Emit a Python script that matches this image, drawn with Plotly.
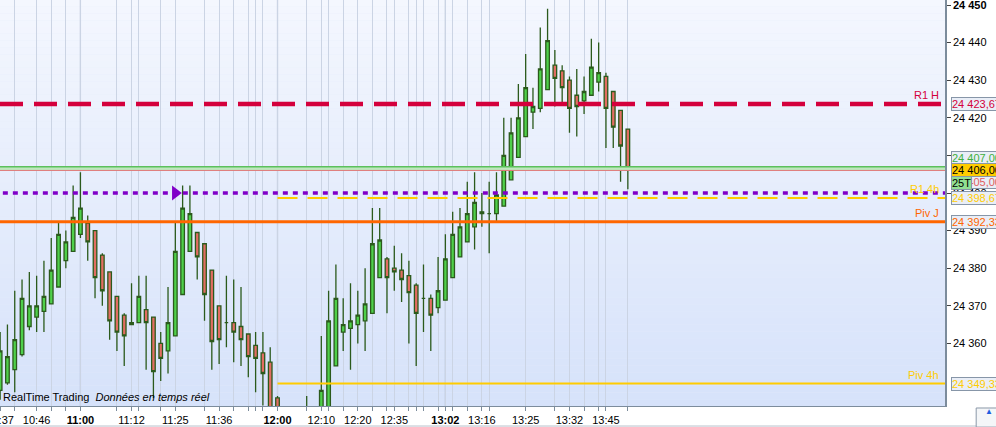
import plotly.graph_objects as go

# ---------------- data ----------------
opens = [24347.5, 24349.5, 24353, 24357, 24364.5, 24367, 24368.5, 24370.5, 24375, 24382,
         24384.5, 24389, 24392, 24390, 24383.5, 24379, 24372.5, 24367.5, 24365, 24365.5,
         24369, 24367, 24360, 24358, 24362, 24373, 24384.5, 24389.5, 24386.5, 24379.5,
         24370, 24365.5, 24365.5, 24364.5, 24362.5, 24359.5, 24357.5, 24355, 24345.5, 24338,
         24331, 24333, 24336, 24339, 24340, 24342, 24354, 24363, 24364, 24365,
         24366, 24368, 24377.5, 24382.5, 24380, 24379.5, 24378, 24375.5, 24372, 24372,
         24369.5, 24371.5, 24377.5, 24383, 24387, 24391, 24394.5, 24394.5, 24394.5, 24396.5,
         24403.5, 24409.5, 24415, 24421.5, 24422.5, 24427.5, 24434, 24432.5, 24430, 24426,
         24424.5, 24426, 24429.5, 24431, 24427, 24422, 24417]
highs = [24363, 24365, 24374, 24377, 24379, 24378, 24382, 24388, 24392.5, 24390,
         24402, 24405.5, 24394, 24390, 24384, 24379, 24372.5, 24368, 24376, 24378,
         24378, 24367, 24363, 24375, 24392.5, 24402, 24402, 24389.5, 24386.5, 24379.5,
         24370, 24378, 24377, 24375, 24362.5, 24363, 24363, 24359, 24346, 24341,
         24336, 24340, 24346, 24342, 24362, 24374, 24381, 24372, 24376, 24374,
         24380, 24396, 24396, 24383, 24386, 24384, 24382, 24376, 24381, 24373,
         24383, 24389, 24395, 24396, 24403, 24405.5, 24400, 24403, 24405.5, 24420,
         24420, 24429, 24437, 24428, 24444, 24449, 24438, 24434, 24431, 24433,
         24431, 24441, 24440, 24432, 24427, 24422, 24417]
lows = [24345, 24349, 24347, 24356.5, 24363.5, 24363, 24363, 24370.5, 24375, 24380,
        24384.5, 24388, 24382, 24372, 24370, 24361, 24358, 24354, 24365, 24365.5,
        24353, 24345.5, 24350, 24352, 24362, 24373, 24384.5, 24377, 24366, 24353,
        24354.5, 24359, 24355, 24354, 24351, 24347, 24343.5, 24336, 24333, 24328,
        24325, 24329, 24331, 24333, 24336, 24340, 24354, 24358, 24353, 24360,
        24358, 24368, 24377.5, 24368, 24374, 24371, 24360, 24354, 24363, 24358,
        24368, 24371.5, 24377.5, 24383, 24387, 24385, 24391, 24384, 24392.5, 24396.5,
        24403.5, 24409.5, 24415, 24417, 24421.5, 24427.5, 24423, 24424, 24416, 24415,
        24421, 24426, 24427, 24412, 24412, 24403, 24401]
closes = [24358, 24356.5, 24361, 24372, 24370, 24370, 24372.5, 24379.5, 24389, 24387,
          24393.5, 24396, 24387, 24377.5, 24374, 24366, 24363, 24362, 24365.5, 24372.5,
          24365.5, 24352.5, 24356, 24365.5, 24384.5, 24396, 24394.5, 24383, 24373, 24360.5,
          24361, 24365.5, 24363, 24361, 24356.5, 24356, 24352, 24341, 24338, 24331,
          24333, 24336, 24339, 24340, 24347.5, 24366, 24372, 24365, 24366, 24367.5,
          24370.5, 24386.5, 24387.5, 24377.5, 24379, 24377, 24373.5, 24368, 24372, 24367.5,
          24374, 24382.5, 24389, 24391, 24394.5, 24397.5, 24395, 24394.5, 24399.5, 24410,
          24416, 24420, 24428, 24423, 24433, 24440.5, 24430.5, 24428, 24422.5, 24423,
          24427, 24433.5, 24432, 24422.5, 24417.5, 24412.5, 24406]
bar_index = list(range(len(opens)))

# time-axis labels (tick bars, irregular time spacing)
tick_pos = [0, 5, 11, 18, 24, 30, 38, 44, 49, 54, 61, 66, 72, 78, 83]
tick_labels = ["10:37", "10:46", "<b>11:00</b>", "11:12", "11:25", "11:36", "<b>12:00</b>",
               "12:10", "12:20", "12:35", "<b>13:02</b>", "13:16", "13:25", "13:32", "13:45"]
grid_pos = [2, 7, 9, 16, 19, 22, 28, 32, 34, 35, 36, 42, 45, 47, 51, 53, 56, 57, 58, 60,
            62, 64, 67, 76, 80, 82, 86]
major_pos = [11, 38, 61]

price_ticks = [24360, 24370, 24380, 24390, 24400, 24410, 24420, 24430, 24440, 24450]
price_labels = ["24 360", "24 370", "24 380", "24 390", "24 400", "24 410", "24 420",
                "24 430", "24 440", "<b>24 450</b>"]

# levels
r1_h = 24423.67
band_top = 24407.00
last_price = 24406.00
purple_level = 24400.00
r1_4h = 24398.67
piv_j = 24392.33
piv_4h = 24349.33
levels_start = 38          # 4h levels start at the 12:00 bar
marker_bar = 24            # purple triangle

# ---------------- figure ----------------
X0, X1 = -0.02, 129.45
Y0, Y1 = 24343.35, 24451.33

fig = go.Figure()

fig.add_trace(go.Candlestick(
    x=bar_index, open=opens, high=highs, low=lows, close=closes,
    increasing=dict(fillcolor="#4fd04a", line=dict(color="#2b5a1c", width=1.3)),
    decreasing=dict(fillcolor="#e26d62", line=dict(color="#2b5a1c", width=1.3)),
    whiskerwidth=0, hoverinfo="skip", showlegend=False,
))

fig.add_trace(go.Scatter(
    x=[marker_bar], y=[purple_level], mode="markers",
    marker=dict(symbol="triangle-right", size=13, color="#8000c8", line=dict(width=0)),
    hoverinfo="skip", showlegend=False,
))

shapes = []
# gradient background
N = 60
top_c = (244, 247, 254)
bot_c = (214, 226, 250)
for k in range(N):
    t = (k + 0.5) / N
    c = tuple(round(bot_c[j] + (top_c[j] - bot_c[j]) * t) for j in range(3))
    shapes.append(dict(type="rect", xref="paper", yref="paper", x0=0, x1=1,
                       y0=k / N, y1=(k + 1) / N, fillcolor="rgb(%d,%d,%d)" % c,
                       line=dict(width=0), layer="below"))
# major vertical lines
for p in major_pos:
    shapes.append(dict(type="line", xref="x", yref="paper", x0=p, x1=p, y0=0, y1=1,
                       line=dict(color="#aab5cb", width=1.2), layer="between"))
# level lines
shapes += [
    dict(type="rect", xref="paper", yref="y", x0=0, x1=1, y0=last_price, y1=band_top,
         fillcolor="#bde8bd", line=dict(width=0)),
    dict(type="line", xref="paper", yref="y", x0=0, x1=1, y0=band_top, y1=band_top,
         line=dict(color="#5cc05c", width=1.5)),
    dict(type="line", xref="paper", yref="y", x0=0, x1=1, y0=last_price, y1=last_price,
         line=dict(color="#e07a7a", width=1)),
    dict(type="line", xref="paper", yref="y", x0=0, x1=1, y0=r1_h, y1=r1_h,
         line=dict(color="#d4003c", width=4.5, dash="23px,11px")),
    dict(type="line", xref="paper", yref="y", x0=0.003, x1=1, y0=purple_level, y1=purple_level,
         line=dict(color="#8000c8", width=3.5, dash="5px,5px")),
    dict(type="line", xref="x", yref="y", x0=levels_start, x1=X1, y0=r1_4h, y1=r1_4h,
         line=dict(color="#ffcc00", width=2.2, dash="20px,10px")),
    dict(type="line", xref="paper", yref="y", x0=0, x1=1, y0=piv_j, y1=piv_j,
         line=dict(color="#ff6600", width=3)),
    dict(type="line", xref="x", yref="y", x0=levels_start, x1=X1, y0=piv_4h, y1=piv_4h,
         line=dict(color="#ffcc00", width=2.2)),
    # bottom frame line + small icon
    dict(type="line", xref="paper", yref="paper", x0=0, x1=1.06, y0=-0.0493, y1=-0.0493,
         line=dict(color="#b8c0cc", width=1)),
    dict(type="rect", xref="paper", yref="paper", x0=1.033, x1=1.06, y0=-0.0049, y1=-0.052,
         fillcolor="#f4f6f8", line=dict(color="#8a98a8", width=1)),
]

FONT = "Liberation Sans, Arial, sans-serif"
ann = []
# level names inside the plot
for txt, lvl, col in [("R1 H", r1_h, "#d4003c"), ("R1 4h", r1_4h, "#ffcc00"),
                      ("Piv J", piv_j, "#ff6600"), ("Piv 4h", piv_4h, "#ffcc00")]:
    ann.append(dict(text=txt, xref="paper", yref="y", x=0.9955, y=lvl, xanchor="right",
                    yanchor="bottom", yshift=1, showarrow=False,
                    font=dict(family=FONT, size=11, color=col)))

box_bg = "#e9eef7"
box_bd = "#8796a8"
BX = 951 / 945
def price_box(txt, lvl, col, bg=box_bg, shift=0):
    return dict(text=txt, xref="paper", yref="y", x=BX, y=lvl, xanchor="left",
                yanchor="middle", yshift=shift, showarrow=False, align="left",
                bgcolor=bg, bordercolor=box_bd, borderwidth=1, borderpad=0,
                font=dict(family=FONT, size=11, color=col))

ann += [
    price_box("24 423,67", r1_h, "#d4003c"),
    price_box("24 407,00", band_top, "#40b040", shift=9),
    price_box("24 405,00", last_price, "#e06060", shift=-12),
    price_box("24 406,00", last_price, "#000000", bg="#ffcc00"),
    price_box("25T", last_price, "#000000", bg="#92e092", shift=-13),
    price_box("24 398,67", r1_4h, "#ffcc00"),
    price_box("24 392,33", piv_j, "#ff6600"),
    price_box("24 349,33", piv_4h, "#ffcc00"),
    dict(text="RealTime Trading  <i>Données en temps réel</i>", xref="paper", yref="paper",
         x=0.001, y=0.022, xanchor="left", yanchor="middle", showarrow=False,
         font=dict(family=FONT, size=11, color="#000000")),
    dict(text="▲", xref="paper", yref="paper", x=1.0465, y=-0.014, xanchor="center",
         yanchor="middle", showarrow=False, font=dict(family=FONT, size=8, color="#1f5fe0")),
]

fig.update_layout(
    width=996, height=427,
    margin=dict(l=0, r=51, t=0, b=21, autoexpand=False),
    paper_bgcolor="#ffffff",
    plot_bgcolor="rgb(228,235,251)",
    showlegend=False,
    hovermode=False,
    shapes=shapes,
    annotations=ann,
    xaxis=dict(
        range=[X0, X1], rangeslider=dict(visible=False), automargin=False,
        tickmode="array",
        tickvals=tick_pos + grid_pos,
        ticktext=tick_labels + [""] * len(grid_pos),
        ticks="outside", ticklen=4, tickcolor="#7c8c9c",
        showgrid=True, gridcolor="#cbd4e4", gridwidth=1,
        showline=True, linecolor="#7c8c9c", linewidth=1, mirror=True,
        zeroline=False, ticklabeloverflow="allow",
        tickfont=dict(family=FONT, size=11, color="#000000"),
    ),
    yaxis=dict(
        range=[Y0, Y1], side="right", automargin=False,
        tickmode="array", tickvals=price_ticks, ticktext=price_labels,
        ticks="outside", ticklen=4, tickcolor="#404040",
        showgrid=False, zeroline=False, ticklabeloverflow="allow",
        showline=True, linecolor="#7c8c9c", linewidth=1.5,
        tickfont=dict(family=FONT, size=11, color="#000000"),
    ),
)

fig.write_html("out.html", config={"displayModeBar": False},
               post_script="document.body.style.margin='0';document.body.style.overflow='hidden';")
